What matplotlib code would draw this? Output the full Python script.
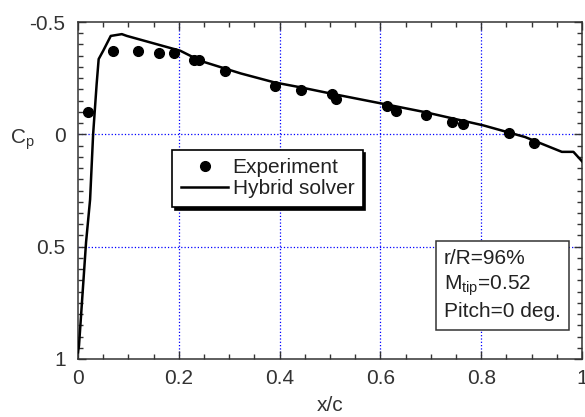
import numpy as np
import matplotlib
matplotlib.use("Agg")
import matplotlib.pyplot as plt
from matplotlib import rcParams as rcp
from matplotlib.ticker import MultipleLocator

rcp['font.family'] = 'Liberation Sans'
rcp['mathtext.default'] = 'regular'

# experiment
x_exp = [0.020, 0.070, 0.120, 0.160, 0.190, 0.230, 0.241, 0.291, 0.390, 0.442,
         0.504, 0.511, 0.613, 0.631, 0.691, 0.743, 0.763, 0.855, 0.905]
cp_exp = [-0.10, -0.372, -0.372, -0.361, -0.361, -0.33, -0.33, -0.28, -0.214, -0.198,
          -0.18, -0.158, -0.124, -0.102, -0.087, -0.054, -0.047, -0.007, 0.037]

# hybrid solver
x_hyb = [0.0, 0.002, 0.016, 0.024, 0.030, 0.037, 0.041, 0.05, 0.065, 0.087, 0.097,
         0.203, 0.243, 0.323, 0.39, 0.442, 0.505, 0.605, 0.688, 0.804, 0.887,
         0.96, 0.983, 1.0]
cp_hyb = [0.97, 0.94, 0.48, 0.29, 0.0, -0.224, -0.335, -0.372, -0.438, -0.446, -0.438,
          -0.372, -0.327, -0.271, -0.231, -0.209, -0.18, -0.136, -0.099, -0.04, 0.012,
          0.078, 0.078, 0.12]

fig = plt.figure(figsize=(5.85, 4.17), dpi=100)
ax = fig.add_axes([78/585, 58/417, 504/585, 337/417])

ax.plot(x_exp, cp_exp, 'o', color='k', markersize=7, label='Experiment', zorder=3)
ax.plot(x_hyb, cp_hyb, '-', color='k', lw=1.8, label='Hybrid solver', zorder=3)

ax.set_xlim(0, 1)
ax.set_ylim(1, -0.5)
ax.set_xticks([0, 0.2, 0.4, 0.6, 0.8, 1])
ax.set_xticklabels(['0', '0.2', '0.4', '0.6', '0.8', '1'])
ax.set_yticks([-0.5, 0, 0.5, 1])
ax.set_yticklabels(['-0.5', '0', '0.5', '1'])
ax.xaxis.set_minor_locator(MultipleLocator(0.05))
ax.yaxis.set_minor_locator(MultipleLocator(0.05))
ax.tick_params(which='both', direction='in', top=True, right=True, width=1,
               labelsize=15, colors='#333333')
ax.tick_params(which='major', length=6, pad=7)
ax.tick_params(which='minor', length=3.5)
ax.tick_params(axis='y', pad=9)
for s in ax.spines.values():
    s.set_linewidth(1.1)
    s.set_color('#333333')

for gx in [0.2, 0.4, 0.6, 0.8]:
    ax.axvline(gx, color='#0000ff', ls=':', lw=0.9, zorder=1)
for gy in [0, 0.5]:
    ax.axhline(gy, color='#0000ff', ls=':', lw=0.9, zorder=1)

ax.set_xlabel('x/c', fontsize=15, color='#333333', labelpad=6)
fig.text(22/585, 1 - 140/417, 'C$_p$', fontsize=15, ha='center', va='center',
         color='#333333')

leg = ax.legend(loc='upper left', bbox_to_anchor=(0.187, 0.62), borderaxespad=0,
                fontsize=15, fancybox=False, edgecolor='k', framealpha=1,
                handlelength=2.3, handletextpad=0.2, labelspacing=0.1,
                borderpad=0.4, shadow={'color': 'k', 'alpha': 1})
leg.get_frame().set_linewidth(1.2)
for t in leg.get_texts():
    t.set_color('#222222')

ax.text(0.726, 0.325, 'r/R=96%\nM$_{tip}$=0.52\nPitch=0 deg.', transform=ax.transAxes,
        ha='left', va='top', fontsize=15, color='#222222', linespacing=1.3,
        bbox=dict(boxstyle='square,pad=0.4', fc='white', ec='#333333', lw=1.1),
        zorder=4)

fig.savefig('out.png', dpi=100)
